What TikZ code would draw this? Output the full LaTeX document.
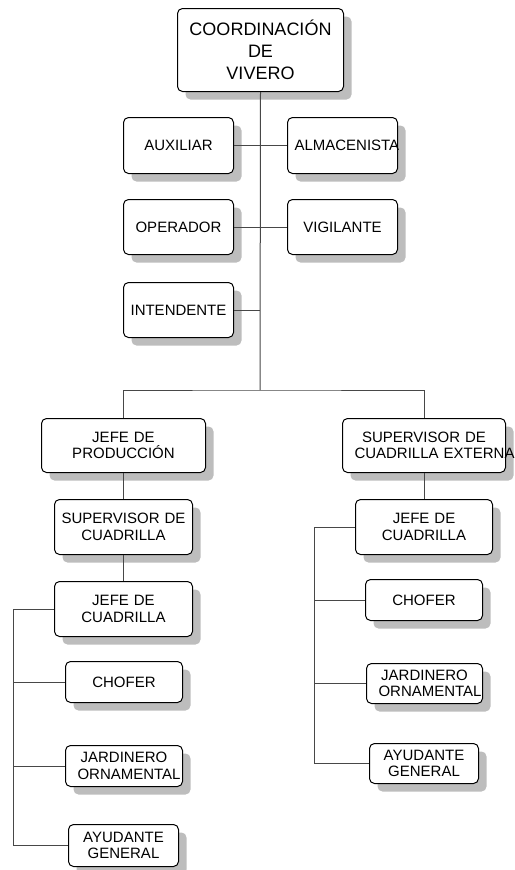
\documentclass[tikz,border=0pt]{standalone}
\usepackage{fontspec}
\setmainfont{Liberation Sans}
\usetikzlibrary{shadows}
\tikzset{
  orgbox/.style={draw=black, line width=1pt, rounded corners=5pt, fill=white,
    anchor=north west, inner ysep=0pt, inner xsep=6pt, align=center,
    font=\fontsize{15}{16.5}\selectfont,
    drop shadow={shadow xshift=8pt, shadow yshift=-8pt, fill=black!26, opacity=1}},
  link/.style={draw=black!72, line width=1pt},
}
\begin{document}
\begin{tikzpicture}[x=1pt, y=-1pt]
\useasboundingbox (0,0) rectangle (514,870);

% head of the nursery
\node[orgbox, text width=154pt, minimum height=83pt,
      font=\fontsize{18}{22}\selectfont] (coord) at (177,8)
      {COORDINACIÓN\\DE\\VIVERO};

% staff attached to the head
\node[orgbox, text width=98pt, minimum height=56pt] (aux) at (123,117) {AUXILIAR};
\node[orgbox, text width=96pt, inner xsep=7pt, minimum height=56pt] (alm) at (287,117) {\mbox{ALMACENISTA}};
\node[orgbox, text width=98pt, minimum height=55pt] (ope) at (123,199) {OPERADOR};
\node[orgbox, text width=98pt, minimum height=55pt] (vig) at (287,199) {VIGILANTE};
\node[orgbox, text width=98pt, minimum height=55pt] (int) at (123,282) {INTENDENTE};

% production branch
\node[orgbox, text width=152pt, minimum height=54pt] (jp) at (41,418) {JEFE DE\\PRODUCCIÓN};
\node[orgbox, text width=126pt, minimum height=55pt] (sc) at (54,499) {SUPERVISOR DE\\CUADRILLA};
\node[orgbox, text width=126pt, minimum height=55pt] (jc) at (54,581) {JEFE DE\\CUADRILLA};
\node[orgbox, text width=105pt, minimum height=41pt] (ch) at (65,661) {CHOFER};
\node[orgbox, text width=93pt, inner xsep=12pt, minimum height=41pt] (jd) at (65,745) {JARDINERO\\\mbox{ORNAMENTAL}};
\node[orgbox, text width=98pt, minimum height=42pt] (ag) at (68,824) {AYUDANTE\\GENERAL};

% external crew branch
\node[orgbox, text width=139pt, inner xsep=12pt, minimum height=54pt] (se) at (342,418) {SUPERVISOR DE\\\mbox{CUADRILLA EXTERNA}};
\node[orgbox, text width=125pt, minimum height=55pt] (jc2) at (355,499) {JEFE DE\\CUADRILLA};
\node[orgbox, text width=105pt, minimum height=41pt] (ch2) at (365,579) {CHOFER};
\node[orgbox, text width=92pt, inner xsep=12pt, minimum height=40pt] (jd2) at (366,663) {JARDINERO\\\mbox{ORNAMENTAL}};
\node[orgbox, text width=97pt, minimum height=40pt] (ag2) at (369,743) {AYUDANTE\\GENERAL};

% connectors
\coordinate (bar) at (260,390);
\coordinate (spL) at (13,608);
\coordinate (spR) at (314,527);

\draw[link] (coord.south) -- (bar);
\draw[link] (jp.north) |- (bar) -| (se.north);
\draw[link] (aux.east) -- (alm.west);
\draw[link] (ope.east) -- (vig.west);
\draw[link] (int.east) -- (int.east -| bar);

\draw[link] (jp.south) -- (sc.north);
\draw[link] (sc.south) -- (jc.north);
\draw[link] (jc.west) -- (jc.west -| spL) |- (ag.west);
\draw[link] (ch.west) -- (ch.west -| spL);
\draw[link] (jd.west) -- (jd.west -| spL);

\draw[link] (se.south) -- (jc2.north);
\draw[link] (jc2.west) -- (jc2.west -| spR) |- (ag2.west);
\draw[link] (ch2.west) -- (ch2.west -| spR);
\draw[link] (jd2.west) -- (jd2.west -| spR);
\end{tikzpicture}
\end{document}
